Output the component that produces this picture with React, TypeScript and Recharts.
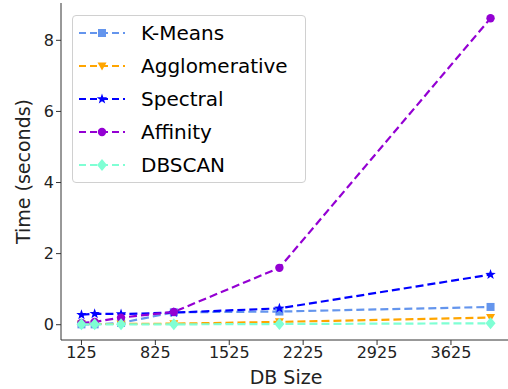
import React from 'react';
import { LineChart, Line, XAxis, YAxis, Label } from 'recharts';

const dbSizes = [125, 250, 500, 1000, 2000, 4000];
const kMeans = [0.01, 0.01, 0.05, 0.35, 0.37, 0.5];
const agglomerative = [0.02, 0.02, 0.02, 0.03, 0.08, 0.2];
const spectral = [0.28, 0.31, 0.3, 0.34, 0.46, 1.41];
const affinity = [0.05, 0.08, 0.2, 0.36, 1.6, 8.62];
const dbscan = [0.01, 0.01, 0.01, 0.01, 0.02, 0.04];

const xTicks = [125, 825, 1525, 2225, 2925, 3625];
const yTicks = [0, 2, 4, 6, 8];

const FONT = '"DejaVu Sans", sans-serif';

const series = [
    { key: 'kMeans', name: 'K-Means', color: '#6495ED', shape: 'square', values: kMeans },
    { key: 'agglomerative', name: 'Agglomerative', color: '#FFA500', shape: 'tri', values: agglomerative },
    { key: 'spectral', name: 'Spectral', color: '#0000FF', shape: 'star', values: spectral },
    { key: 'affinity', name: 'Affinity', color: '#9400D3', shape: 'circle', values: affinity },
    { key: 'dbscan', name: 'DBSCAN', color: '#7FFFD4', shape: 'diamond', values: dbscan },
];

const rows = dbSizes.map((size, i) => {
    const row: Record<string, number> = { size };
    series.forEach(s => { row[s.key] = s.values[i]; });
    return row;
});

const starPath = (cx: number, cy: number, r: number) => {
    const pts: string[] = [];
    for (let i = 0; i < 10; i++) {
        const rad = i % 2 === 0 ? r : r * 0.4;
        const a = -Math.PI / 2 + (i * Math.PI) / 5;
        pts.push(`${cx + rad * Math.cos(a)},${cy + rad * Math.sin(a)}`);
    }
    return `M${pts.join('L')}Z`;
};

const Marker = ({ shape, color, cx, cy }: { shape: string; color: string; cx: number; cy: number }) => {
    switch (shape) {
        case 'square':
            return <rect x={cx - 4} y={cy - 4} width={8} height={8} fill={color} />;
        case 'tri':
            return <path d={`M${cx - 4.5},${cy - 3.5}L${cx + 4.5},${cy - 3.5}L${cx},${cy + 4.5}Z`} fill={color} />;
        case 'star':
            return <path d={starPath(cx, cy, 5.5)} fill={color} />;
        case 'circle':
            return <circle cx={cx} cy={cy} r={4.2} fill={color} />;
        default:
            return <path d={`M${cx},${cy - 6}L${cx + 5},${cy}L${cx},${cy + 6}L${cx - 5},${cy}Z`} fill={color} />;
    }
};

const makeDot = (shape: string, color: string) => (props: any) => {
    const { cx, cy, index } = props;
    return (
        <g key={`${shape}-${index}`}>
            <Marker shape={shape} color={color} cx={cx} cy={cy} />
        </g>
    );
};

const LegendBox = () => (
    <div
        style={{
            position: 'absolute',
            left: 72,
            top: 15,
            width: 234,
            height: 168,
            border: '1px solid #d0d0d0',
            borderRadius: 4,
            background: 'rgba(255,255,255,0.8)',
            boxSizing: 'border-box',
            paddingTop: 1,
        }}
    >
        {series.map(s => (
            <div key={s.key} style={{ display: 'flex', alignItems: 'center', height: 32.8 }}>
                <svg width={60} height={20} style={{ marginLeft: 4 }}>
                    <line x1={2} y1={10} x2={48} y2={10} stroke={s.color} strokeWidth={2} strokeDasharray="7 4" />
                    <Marker shape={s.shape} color={s.color} cx={25} cy={10} />
                </svg>
                <span style={{ fontFamily: FONT, fontSize: 20, color: '#000', marginLeft: 4, lineHeight: '20px' }}>{s.name}</span>
            </div>
        ))}
    </div>
);

export default function App() {
    return (
        <div style={{ position: 'absolute', left: 0, top: 0, width: 508, height: 389, overflow: 'hidden', background: '#fff' }}>
            <LineChart width={520} height={389} data={rows} margin={{ top: 3, right: 9, bottom: 0, left: 0 }}>
                <XAxis
                    dataKey="size"
                    type="number"
                    domain={[-68.75, 4193.75]}
                    ticks={xTicks}
                    allowDataOverflow
                    height={49}
                    stroke="#333"
                    tickSize={5}
                    tick={{ fill: '#222', fontSize: 16, fontFamily: FONT }}
                    interval={0}
                >
                    <Label value="DB Size" position="insideBottom" offset={5} style={{ fill: '#222', fontSize: 19, fontFamily: FONT }} />
                </XAxis>
                <XAxis xAxisId="top" orientation="top" dataKey="size" type="number" domain={[-68.75, 4193.75]} tick={false} tickLine={false} height={0} stroke="#333" />
                <YAxis
                    type="number"
                    domain={[-0.43, 9.05]}
                    ticks={yTicks}
                    allowDataOverflow
                    width={61}
                    stroke="#333"
                    tickSize={5}
                    tick={{ fill: '#222', fontSize: 16, fontFamily: FONT }}
                    interval={0}
                >
                    <Label value="Time (seconds)" angle={-90} position="insideLeft" offset={23} style={{ textAnchor: 'middle', fill: '#222', fontSize: 19, fontFamily: FONT }} />
                </YAxis>
                <YAxis yAxisId="right" orientation="right" domain={[-0.43, 9.05]} tick={false} tickLine={false} width={0} stroke="#333" />
                {series.map(s => (
                    <Line
                        key={s.key}
                        dataKey={s.key}
                        name={s.name}
                        stroke={s.color}
                        strokeWidth={2.2}
                        strokeDasharray="8 4"
                        dot={makeDot(s.shape, s.color)}
                        activeDot={false}
                        isAnimationActive={false}
                    />
                ))}
            </LineChart>
            <LegendBox />
        </div>
    );
}
